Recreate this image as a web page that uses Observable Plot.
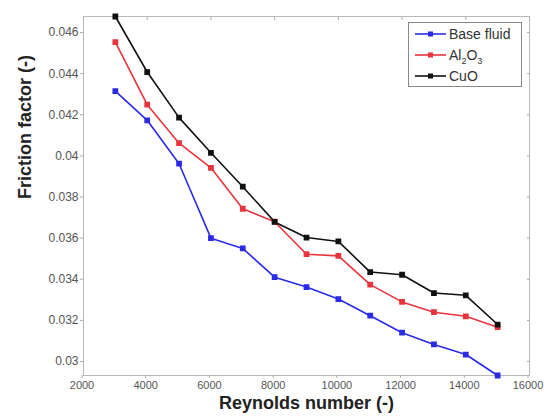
<!DOCTYPE html>
<html>
<head>
<meta charset="utf-8">
<script src="https://cdn.jsdelivr.net/npm/d3@7"></script>
<script src="https://cdn.jsdelivr.net/npm/@observablehq/plot@0.6"></script>
<style>
  html, body { margin: 0; padding: 0; background: #fff; }
  #wrap { position: relative; width: 544px; height: 416px; font-family: "Liberation Sans", Arial, sans-serif; }
  #legend { position: absolute; left: 408px; top: 22px; width: 114px; height: 65px; border: 1px solid #8a8a8a; background: #fff; box-sizing: border-box; }
  .item { position: absolute; left: 5px; height: 20px; display: flex; align-items: center; font-size: 14px; color: #333; }
  .item svg { margin-right: 2px; }
  sub { font-size: 9px; vertical-align: -4px; line-height: 0; }
</style>
</head>
<body>
<div id="wrap"></div>
<script>
const reynolds = [3000, 4000, 5000, 6000, 7000, 8000, 9000, 10000, 11000, 12000, 13000, 14000, 15000];
const baseFluid = [0.04315, 0.04173, 0.03962, 0.0360, 0.0355, 0.0341, 0.03362, 0.03304, 0.03223, 0.0314, 0.03083, 0.03034, 0.02932];
const al2o3 = [0.04553, 0.04249, 0.04062, 0.03942, 0.03743, 0.0368, 0.03522, 0.03514, 0.03374, 0.0329, 0.0324, 0.0322, 0.03167];
const cuo = [0.04678, 0.04408, 0.04186, 0.04015, 0.0385, 0.03679, 0.03603, 0.03584, 0.03435, 0.03422, 0.03333, 0.03322, 0.0318];
const seriesNames = ["Base fluid", "Al2O3", "CuO"];
const seriesColors = ["#2b2be6", "#e8343c", "#111111"];
const xTicks = [2000, 4000, 6000, 8000, 10000, 12000, 14000, 16000];
const yTicks = [0.03, 0.032, 0.034, 0.036, 0.038, 0.04, 0.042, 0.044, 0.046];

const seriesValues = [baseFluid, al2o3, cuo];
const data = seriesValues.flatMap((vals, i) =>
  vals.map((v, j) => ({ re: reynolds[j], f: v, series: seriesNames[i] })));

const chart = Plot.plot({
  width: 544,
  height: 416,
  marginLeft: 83,
  marginRight: 15,
  marginTop: 16,
  marginBottom: 41,
  style: { fontFamily: "Liberation Sans, Arial, sans-serif", fontSize: "12px", color: "#555", background: "#fff" },
  x: { domain: [2000, 16000], label: null },
  y: { domain: [0.02932, 0.04678], label: null },
  color: { domain: seriesNames, range: seriesColors },
  marks: [
    Plot.frame({ stroke: "#b8b8b8" }),
    Plot.axisX({ ticks: xTicks, tickFormat: d3.format("d"), tickSize: 3, tickPadding: 3, fontSize: 11, dx: -1.5, stroke: "#aaa", fill: "#555", label: null }),
    Plot.axisY({ ticks: yTicks, tickFormat: d => String(+d.toFixed(3)), tickSize: 3, tickPadding: 2, stroke: "#aaa", fill: "#555", label: null }),
    Plot.axisX({ anchor: "top", ticks: xTicks, tickSize: -3, tickFormat: () => "", stroke: "#aaa", label: null }),
    Plot.axisY({ anchor: "right", ticks: yTicks, tickSize: -3, tickFormat: () => "", stroke: "#aaa", label: null }),
    Plot.line(data, { x: "re", y: "f", z: "series", stroke: "series", strokeWidth: 1.6 }),
    Plot.dot(data, { x: "re", y: "f", fill: "series", stroke: "series", r: 2.4, symbol: "square" }),
    Plot.text(["Reynolds number (-)"], { frameAnchor: "bottom", dy: 33, text: d => d, fontWeight: "bold", fontSize: 18, fill: "#222" }),
    Plot.text(["Friction factor (-)"], { frameAnchor: "left", dx: -58, dy: 3, rotate: -90, text: d => d, fontWeight: "bold", fontSize: 18, fill: "#222" })
  ]
});

const wrap = document.getElementById("wrap");
wrap.appendChild(chart);

const legend = document.createElement("div");
legend.id = "legend";
const labelsHtml = ["Base fluid", "Al<sub>2</sub>O<sub>3</sub>", "CuO"];
seriesNames.forEach((name, i) => {
  const item = document.createElement("div");
  item.className = "item";
  item.style.top = (1 + i * 21) + "px";
  const c = seriesColors[i];
  item.innerHTML = `<svg width="33" height="10"><line x1="1" x2="32" y1="5" y2="5" stroke="${c}" stroke-width="1.6"/><rect x="14" y="2.5" width="5" height="5" fill="${c}"/></svg><span>${labelsHtml[i]}</span>`;
  legend.appendChild(item);
});
wrap.appendChild(legend);
</script>
</body>
</html>
